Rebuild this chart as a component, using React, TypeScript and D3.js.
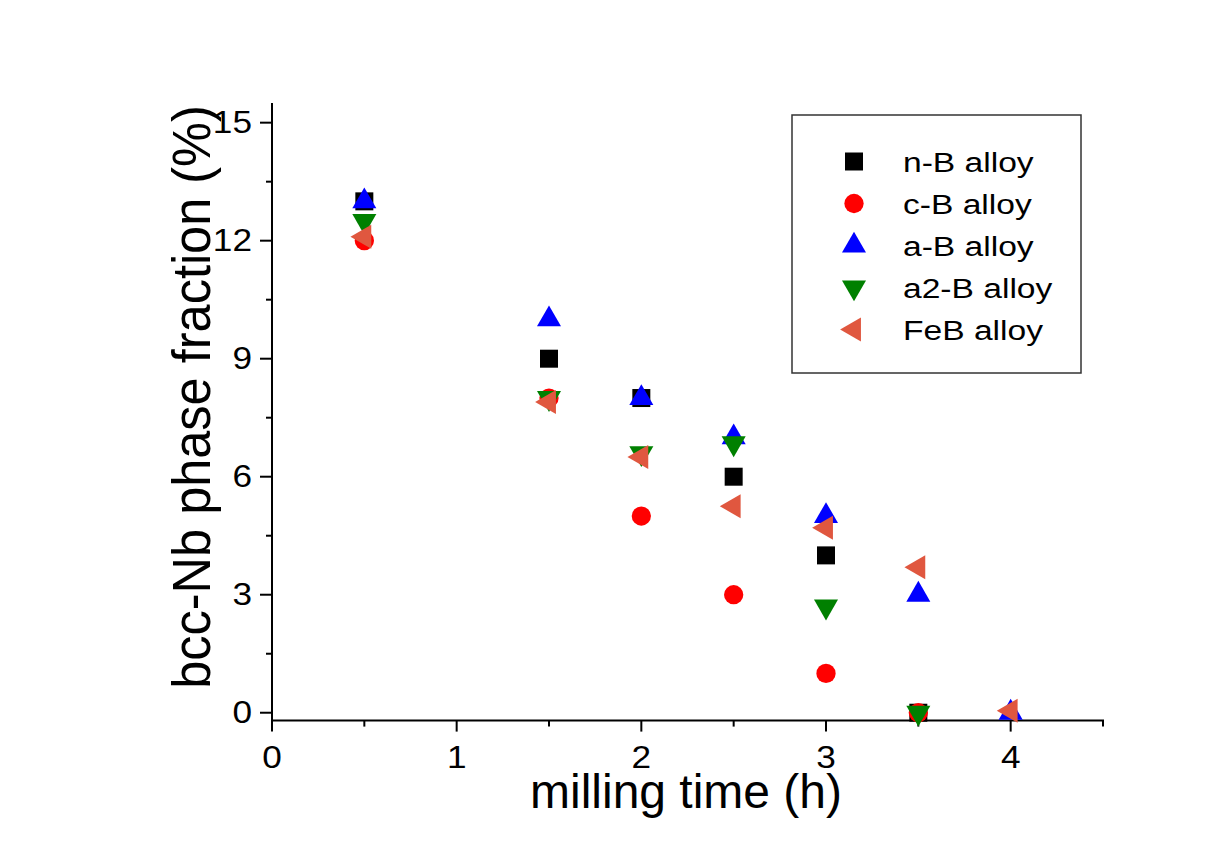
import React from "react";
import * as d3 from "d3";

const times = [0.5, 1.5, 2, 2.5, 3, 3.5, 4];
const nB = [13, 9, 8, 6, 4, 0, null];
const cB = [12, 8, 5, 3, 1, 0, null];
const aB = [13, 10, 8, 7, 5, 3, 0];
const a2B = [12.5, 8, 6.6, 6.85, 2.7, 0, null];
const feB = [12.1, 7.9, 6.5, 5.25, 4.7, 3.7, 0.05];

const seriesNames = ["n-B alloy", "c-B alloy", "a-B alloy", "a2-B alloy", "FeB alloy"];
const seriesValues = [nB, cB, aB, a2B, feB];
const seriesColors = ["#000000", "#ff0000", "#0000ff", "#008000", "#e0573f"];
const seriesShapes = ["square", "circle", "up", "down", "left"];

const xMajor = [0, 1, 2, 3, 4];
const xMinor = [0.5, 1.5, 2.5, 3.5, 4.5];
const yMajor = [0, 3, 6, 9, 12, 15];
const yMinor = [1.5, 4.5, 7.5, 10.5, 13.5];

const FONT = "'Liberation Sans', Arial, sans-serif";

function markerPath(shape: string) {
  if (shape === "square") return d3.symbol(d3.symbolSquare, 324)()!;
  if (shape === "circle") return d3.symbol(d3.symbolCircle, 292)()!;
  return d3.symbol(d3.symbolTriangle, 250)()!;
}
function markerRot(shape: string) {
  if (shape === "down") return 180;
  if (shape === "left") return -90;
  return 0;
}

function Marker({ x, y, shape, color }: any) {
  return (
    <path
      d={markerPath(shape)}
      transform={`translate(${x},${y}) rotate(${markerRot(shape)})`}
      fill={color}
    />
  );
}

export default function App() {
  const x = d3.scaleLinear().domain([0, 4.5]).range([272, 1103]);
  const y = d3.scaleLinear().domain([-0.2, 15.5]).range([720.6, 103]);
  const x0 = x(0);
  const yb = y(-0.2);

  return (
    <svg
      width={1217}
      height={860}
      style={{ position: "absolute", left: 0, top: 0, background: "#fff" }}
      fontFamily={FONT}
    >
      <rect x={0} y={0} width={1217} height={860} fill="#fff" />
      {/* axes */}
      <line x1={x0} x2={x0} y1={y(15.5)} y2={yb} stroke="#000" strokeWidth={2} />
      <line x1={x0 - 1} x2={x(4.5) + 1} y1={yb} y2={yb} stroke="#000" strokeWidth={2} />
      {yMajor.map((v) => (
        <g key={"ym" + v}>
          <line x1={x0 - 12} x2={x0} y1={y(v)} y2={y(v)} stroke="#000" strokeWidth={2} />
          <text
            transform={`translate(252,${y(v) + 10.5}) scale(1.1,1)`}
            textAnchor="end"
            fontSize={32}
            fill="#000"
          >
            {v}
          </text>
        </g>
      ))}
      {yMinor.map((v) => (
        <line key={"yn" + v} x1={x0 - 6} x2={x0} y1={y(v)} y2={y(v)} stroke="#000" strokeWidth={2} />
      ))}
      {xMajor.map((v) => (
        <g key={"xm" + v}>
          <line x1={x(v)} x2={x(v)} y1={yb} y2={yb + 11} stroke="#000" strokeWidth={2} />
          <text
            transform={`translate(${x(v)},768) scale(1.1,1)`}
            textAnchor="middle"
            fontSize={32}
            fill="#000"
          >
            {v}
          </text>
        </g>
      ))}
      {xMinor.map((v) => (
        <line key={"xn" + v} x1={x(v)} x2={x(v)} y1={yb} y2={yb + 6} stroke="#000" strokeWidth={2} />
      ))}
      {/* titles */}
      <text
        transform={`translate(686,808)`}
        textAnchor="middle"
        fontSize={48}
        fill="#000"
      >
        milling time (h)
      </text>
      <text
        transform={`translate(210,397) rotate(-90) scale(1,1.08)`}
        textAnchor="middle"
        fontSize={50.5}
        fill="#000"
      >
        bcc-Nb phase fraction (%)
      </text>
      {/* data */}
      {seriesValues.map((vals, si) => (
        <g key={"s" + si}>
          {vals.map((v, i) =>
            v === null ? null : (
              <Marker
                key={i}
                x={x(times[i])}
                y={y(v as number)}
                shape={seriesShapes[si]}
                color={seriesColors[si]}
              />
            )
          )}
        </g>
      ))}
      {/* legend */}
      <rect x={792} y={115} width={289} height={258} fill="none" stroke="#333" strokeWidth={1.5} />
      {seriesNames.map((name, i) => {
        const cy = 161.5 + i * 42;
        return (
          <g key={"l" + i}>
            <Marker x={854} y={cy} shape={seriesShapes[i]} color={seriesColors[i]} />
            <text
              transform={`translate(903,${cy + 10}) scale(1.2,1)`}
              fontSize={28}
              fill="#000"
            >
              {name}
            </text>
          </g>
        );
      })}
    </svg>
  );
}
